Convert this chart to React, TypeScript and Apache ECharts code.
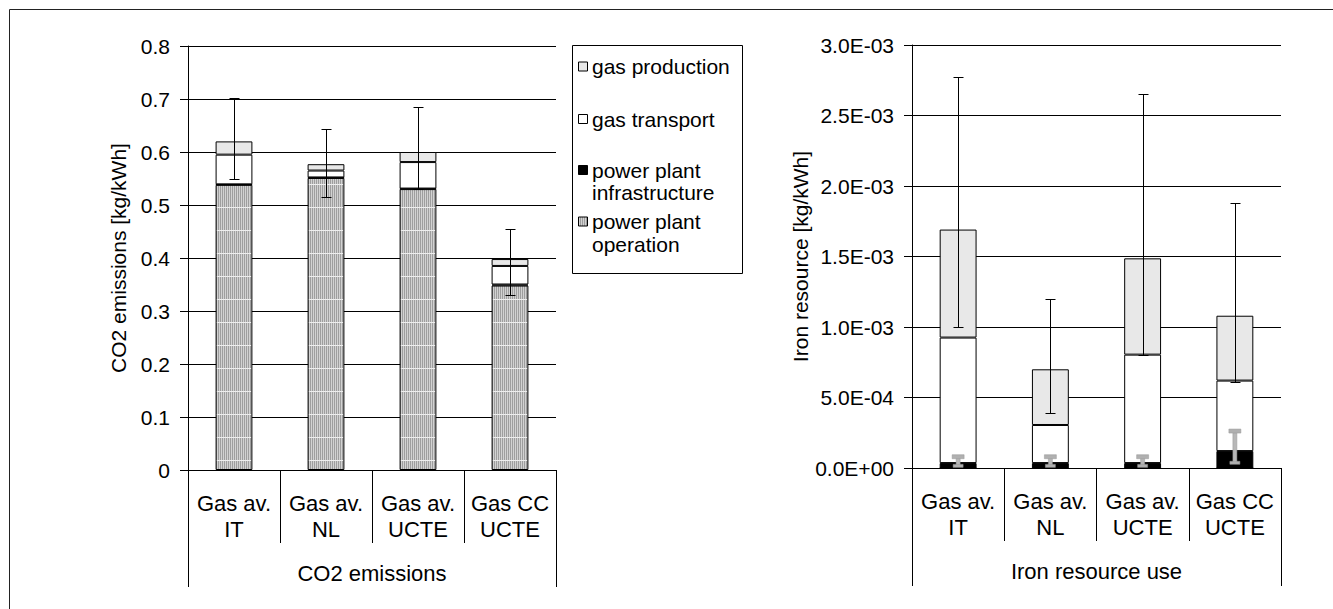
import React, { useEffect, useRef } from 'react';
import * as echarts from 'echarts';

const categories = ['Gas av.\nIT', 'Gas av.\nNL', 'Gas av.\nUCTE', 'Gas CC\nUCTE'];
const groupLeft = ['CO2 emissions'];
const groupRight = ['Iron resource use'];

const co2Operation = [0.538, 0.551, 0.53, 0.348];
const co2Infrastructure = [0.001, 0.001, 0.001, 0.002];
const co2Transport = [0.056, 0.013, 0.05, 0.035];
const co2Production = [0.025, 0.012, 0.019, 0.013];
const co2ErrLow = [0.55, 0.515, 0.531, 0.33];
const co2ErrHigh = [0.702, 0.643, 0.685, 0.455];

const ironOperation = [0, 0, 0, 0];
const ironInfrastructure = [3.5e-5, 3.5e-5, 3.5e-5, 1.2e-4];
const ironTransport = [8.9e-4, 2.7e-4, 7.69e-4, 5.0e-4];
const ironProduction = [7.66e-4, 3.95e-4, 6.83e-4, 4.6e-4];
const ironErrLow = [1.0e-3, 3.92e-4, 8.0e-4, 6.08e-4];
const ironErrHigh = [2.775e-3, 1.2e-3, 2.655e-3, 1.88e-3];
const ironInfraErrLow = [1.5e-5, 1.5e-5, 1.5e-5, 3.7e-5];
const ironInfraErrHigh = [8.0e-5, 8.0e-5, 8.0e-5, 2.62e-4];

const legendNames = ['gas production', 'gas transport', 'power plant\ninfrastructure', 'power plant\noperation'];

const FONT = "'Liberation Sans', Arial, sans-serif";
const FS = 21;
const FS_CAT = 22;

function makePattern() {
  const c = document.createElement('canvas');
  c.width = 2;
  c.height = 23;
  const ctx = c.getContext('2d')!;
  ctx.fillStyle = '#9e9e9e';
  ctx.fillRect(0, 0, 1, 23);
  ctx.fillStyle = '#d2d2d2';
  ctx.fillRect(1, 0, 1, 23);
  ctx.fillStyle = '#eeeeee';
  ctx.fillRect(0, 0, 2, 1);
  return { image: c, repeat: 'repeat', imageWidth: 2, imageHeight: 23 } as any;
}

function sciFmt(v: number) {
  const [m, e] = v.toExponential(1).split('e');
  const n = parseInt(e, 10);
  return m + 'E' + (n < 0 ? '-' : '+') + String(Math.abs(n)).padStart(2, '0');
}

const errRender = (params: any, api: any) => {
  const x = api.value(0);
  const lo = api.coord([x, api.value(1)]);
  const hi = api.coord([x, api.value(2)]);
  const cx = Math.round(lo[0]) + 0.5;
  const yl = Math.round(lo[1]) + 0.5;
  const yh = Math.round(hi[1]) + 0.5;
  const style = { stroke: '#000', lineWidth: 1 };
  return {
    type: 'group',
    children: [
      { type: 'line', shape: { x1: cx, y1: yl, x2: cx, y2: yh }, style },
      { type: 'line', shape: { x1: cx - 5, y1: yl, x2: cx + 5, y2: yl }, style },
      { type: 'line', shape: { x1: cx - 5, y1: yh, x2: cx + 5, y2: yh }, style },
    ],
  };
};

const greyErrRender = (params: any, api: any) => {
  const x = api.value(0);
  const lo = api.coord([x, api.value(1)]);
  const hi = api.coord([x, api.value(2)]);
  const cx = lo[0];
  return {
    type: 'group',
    children: [
      { type: 'rect', shape: { x: cx - 2, y: hi[1], width: 4, height: lo[1] - hi[1] }, style: { fill: '#b8b8b8', stroke: '#999', lineWidth: 0.5 } },
      { type: 'rect', shape: { x: cx - 6, y: hi[1] - 2, width: 12, height: 4 }, style: { fill: '#b0b0b0', stroke: '#999', lineWidth: 0.5 } },
      { type: 'rect', shape: { x: cx - 5, y: lo[1] - 1.5, width: 10, height: 3 }, style: { fill: '#b0b0b0', stroke: '#999', lineWidth: 0.5 } },
    ],
  };
};

export default function App() {
  const ref = useRef<HTMLDivElement>(null);
  useEffect(() => {
    if (!ref.current) return;
    const chart = echarts.init(ref.current, undefined, { renderer: 'svg' });
    const pattern = makePattern();
    const fills = ['#e8e8e8', '#ffffff', '#000000', pattern];

    const bar = (name: string, data: number[], color: any, xi: number, yi: number, stack: string) => ({
      type: 'bar',
      name,
      data,
      stack,
      xAxisIndex: xi,
      yAxisIndex: yi,
      barWidth: '40%',
      itemStyle: { color, borderColor: '#000', borderWidth: 1 },
      emphasis: { disabled: true },
      silent: true,
    });

    const catAxis = (gridIndex: number, tickLen: number) => ({
      type: 'category',
      gridIndex,
      data: categories,
      position: 'bottom',
      axisLine: { show: true, lineStyle: { color: '#000', width: 1 } },
      axisTick: { show: true, length: tickLen, lineStyle: { color: '#000' } },
      axisLabel: { interval: 0, color: '#000', fontFamily: FONT, fontSize: FS_CAT, lineHeight: 26, margin: 20 },
      splitLine: { show: false },
    });
    const groupAxis = (gridIndex: number, data: string[], tickLen: number) => ({
      type: 'category',
      gridIndex,
      data,
      position: 'bottom',
      axisLine: { show: false },
      axisTick: { show: true, length: tickLen, lineStyle: { color: '#000' } },
      axisLabel: { interval: 0, color: '#000', fontFamily: FONT, fontSize: FS_CAT, lineHeight: 26, margin: 90 },
      splitLine: { show: false },
    });
    const valAxis = (gridIndex: number, max: number, interval: number, name: string, nameGap: number, fmt?: any) => ({
      type: 'value',
      gridIndex,
      min: 0,
      max,
      interval,
      name,
      nameLocation: 'middle',
      nameGap,
      nameTextStyle: { color: '#000', fontFamily: FONT, fontSize: FS },
      axisLine: { show: true, lineStyle: { color: '#000', width: 1 } },
      axisTick: { show: true, length: 8, lineStyle: { color: '#000' } },
      axisLabel: { color: '#000', fontFamily: FONT, fontSize: FS, margin: 18, formatter: fmt },
      splitLine: { show: true, lineStyle: { color: '#000', width: 1 } },
    });

    const legendItems: any[] = [
      { type: 'rect', shape: { x: 572.5, y: 45.5, width: 170, height: 228 }, style: { fill: '#fff', stroke: '#000', lineWidth: 1 } },
    ];
    const firstLineY = [66.5, 119, 170, 221.5];
    legendNames.forEach((nm, i) => {
      legendItems.push({
        type: 'rect',
        shape: { x: 578.5, y: firstLineY[i] - 4.5, width: 9, height: 9 },
        style: { fill: fills[i], stroke: '#000', lineWidth: 1 },
      });
      nm.split('\n').forEach((ln, j) => {
        legendItems.push({
          type: 'text',
          x: 592,
          y: firstLineY[i] + j * 22.5,
          style: { text: ln, fill: '#000', font: `${FS}px ${FONT}`, verticalAlign: 'middle', align: 'left' },
        });
      });
    });

    const frame = [
      { type: 'line', shape: { x1: 9.5, y1: 9.5, x2: 1333, y2: 9.5 }, style: { stroke: '#222', lineWidth: 1 } },
      { type: 'line', shape: { x1: 9.5, y1: 9.5, x2: 9.5, y2: 609 }, style: { stroke: '#222', lineWidth: 1 } },
    ];

    const seriesNames = ['power plant operation', 'power plant infrastructure', 'gas transport', 'gas production'];

    chart.setOption({
      animation: false,
      backgroundColor: '#fff',
      grid: [
        { left: 188, top: 46, width: 368, height: 424 },
        { left: 912, top: 45, width: 369, height: 423 },
      ],
      xAxis: [catAxis(0, 73), groupAxis(0, groupLeft, 117), catAxis(1, 73), groupAxis(1, groupRight, 118)],
      yAxis: [
        valAxis(0, 0.8, 0.1, 'CO2 emissions [kg/kWh]', 59),
        valAxis(1, 0.003, 0.0005, 'Iron resource [kg/kWh]', 100, sciFmt),
      ],
      series: [
        bar(seriesNames[0], co2Operation, pattern, 0, 0, 'L'),
        bar(seriesNames[1], co2Infrastructure, '#000', 0, 0, 'L'),
        bar(seriesNames[2], co2Transport, '#fff', 0, 0, 'L'),
        bar(seriesNames[3], co2Production, '#e8e8e8', 0, 0, 'L'),
        bar(seriesNames[0], ironOperation, pattern, 2, 1, 'R'),
        bar(seriesNames[1], ironInfrastructure, '#000', 2, 1, 'R'),
        bar(seriesNames[2], ironTransport, '#fff', 2, 1, 'R'),
        bar(seriesNames[3], ironProduction, '#e8e8e8', 2, 1, 'R'),
        {
          type: 'custom',
          xAxisIndex: 0,
          yAxisIndex: 0,
          z: 5,
          silent: true,
          renderItem: errRender,
          encode: { x: 0, y: [1, 2] },
          data: categories.map((_, i) => [i, co2ErrLow[i], co2ErrHigh[i]]),
        },
        {
          type: 'custom',
          xAxisIndex: 2,
          yAxisIndex: 1,
          z: 5,
          silent: true,
          renderItem: errRender,
          encode: { x: 0, y: [1, 2] },
          data: categories.map((_, i) => [i, ironErrLow[i], ironErrHigh[i]]),
        },
        {
          type: 'custom',
          xAxisIndex: 2,
          yAxisIndex: 1,
          z: 6,
          silent: true,
          renderItem: greyErrRender,
          encode: { x: 0, y: [1, 2] },
          data: categories.map((_, i) => [i, ironInfraErrLow[i], ironInfraErrHigh[i]]),
        },
      ],
      graphic: [...frame, ...legendItems],
    } as any);
    return () => chart.dispose();
  }, []);
  return <div ref={ref} style={{ position: 'absolute', left: 0, top: 0, width: 1333, height: 609 }} />;
}
